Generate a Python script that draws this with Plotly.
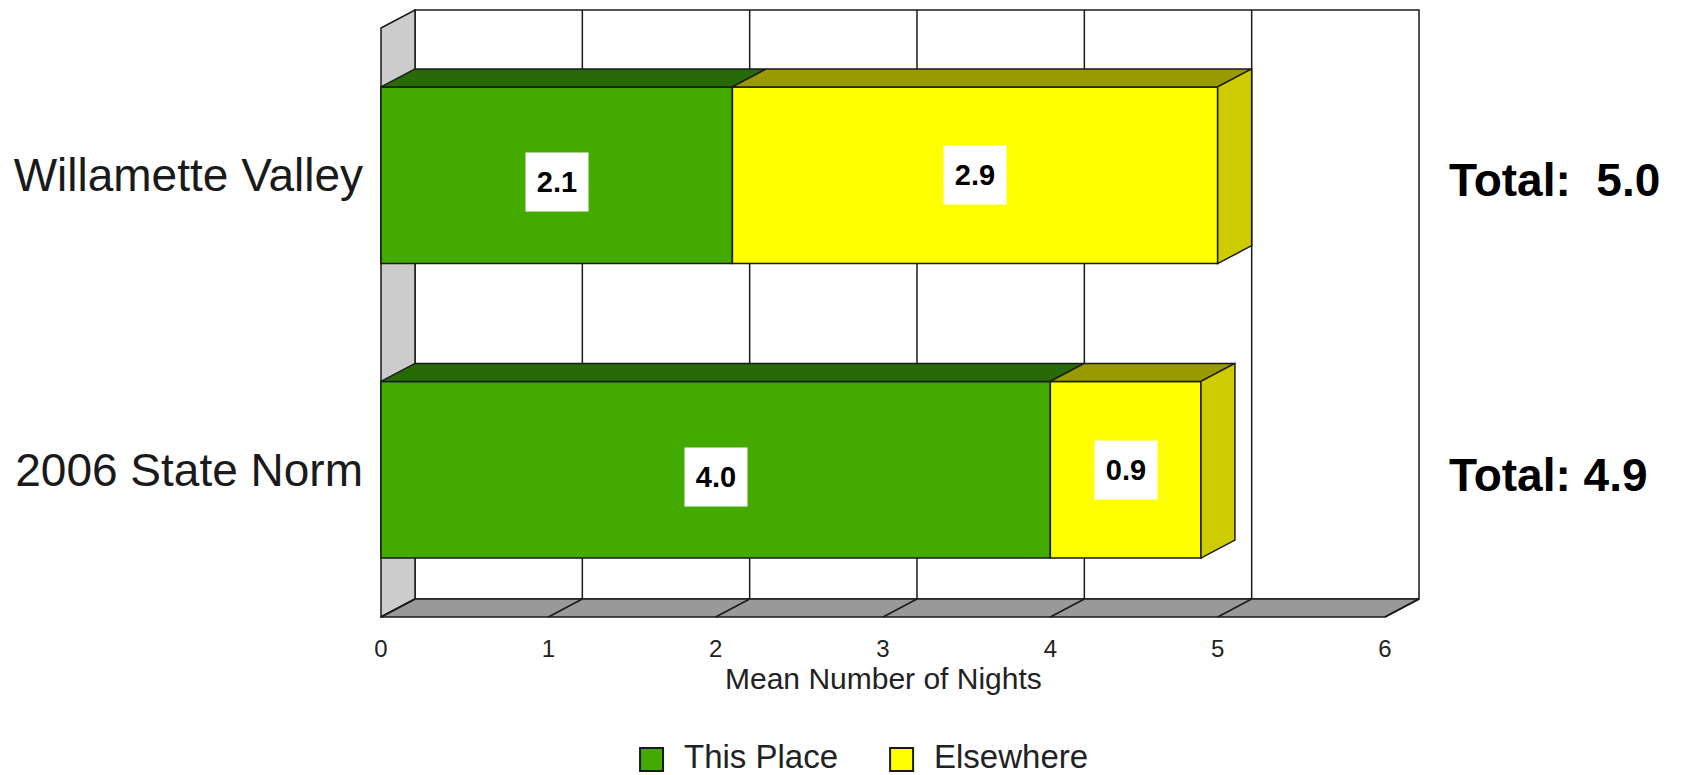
import plotly.graph_objects as go

# ---- data -------------------------------------------------------------
categories = ["Willamette Valley", "2006 State Norm"]
this_place = [2.1, 4.0]
elsewhere = [2.9, 0.9]
total_labels = ["Total:\u00a0 5.0", "Total: 4.9"]
x_ticks = [0, 1, 2, 3, 4, 5, 6]
series_names = ["This Place", "Elsewhere"]

# ---- styling ----------------------------------------------------------
FONT = "Arial, Liberation Sans, sans-serif"
GREEN, GREEN_TOP = "#44AA00", "#286A06"
YELLOW, YELLOW_TOP, YELLOW_SIDE = "#FFFF00", "#999900", "#CCCC00"
WALL, FLOOR, EDGE = "#CCCCCC", "#999999", "#1a1a1a"
BAR_W = 0.6

W, H = 1683, 775
PX_X = 167.3          # pixels per x unit
PX_Y = 294.5          # pixels per category step
DEPTH_PX, RISE_PX = 34, 18
PAD = 3
dx = DEPTH_PX / PX_X
dy = RISE_PX / PX_Y
x_max = max(x_ticks)

x_range = [-PAD / PX_X, x_max + dx + PAD / PX_X]
y_lo, y_hi = -0.5, len(categories) - 0.5
y_range = [y_hi + PAD / PX_Y, y_lo - dy - PAD / PX_Y]

plot_w = (x_range[1] - x_range[0]) * PX_X
plot_h = (y_range[0] - y_range[1]) * PX_Y
m_l, m_t = 378, 7
m_r = W - m_l - plot_w
m_b = H - m_t - plot_h


def paper_x(px):
    return (px - m_l) / plot_w


def paper_y(py):
    return (m_t + plot_h - py) / plot_h


def poly(points):
    return "M " + " L ".join(f"{x},{y}" for x, y in points) + " Z"


shapes = []
# back wall
shapes.append(dict(type="rect", xref="x", yref="y", layer="below",
                   x0=dx, x1=x_max + dx, y0=y_lo - dy, y1=y_hi - dy,
                   fillcolor="white", line=dict(color=EDGE, width=1.5)))
for t in x_ticks[1:-1]:
    shapes.append(dict(type="line", xref="x", yref="y", layer="below",
                       x0=t + dx, x1=t + dx, y0=y_lo - dy, y1=y_hi - dy,
                       line=dict(color=EDGE, width=1.5)))
# left side wall
shapes.append(dict(type="path", xref="x", yref="y", layer="below",
                   path=poly([(0, y_lo), (dx, y_lo - dy), (dx, y_hi - dy), (0, y_hi)]),
                   fillcolor=WALL, line=dict(color=EDGE, width=1.5)))
# floor
shapes.append(dict(type="path", xref="x", yref="y", layer="below",
                   path=poly([(0, y_hi), (dx, y_hi - dy), (x_max + dx, y_hi - dy), (x_max, y_hi)]),
                   fillcolor=FLOOR, line=dict(color=EDGE, width=1.5)))
for t in x_ticks:
    shapes.append(dict(type="line", xref="x", yref="y", layer="below",
                       x0=t, x1=t + dx, y0=y_hi, y1=y_hi - dy,
                       line=dict(color=EDGE, width=1.5)))

fig = go.Figure()
ys = list(range(len(categories)))
fig.add_trace(go.Bar(y=ys, x=this_place, orientation="h", width=BAR_W,
                     name=series_names[0], marker=dict(color=GREEN, line=dict(color=EDGE, width=1.5)),
                     showlegend=False, hoverinfo="skip"))
fig.add_trace(go.Bar(y=ys, x=elsewhere, base=this_place, orientation="h", width=BAR_W,
                     name=series_names[1], marker=dict(color=YELLOW, line=dict(color=EDGE, width=1.5)),
                     showlegend=False, hoverinfo="skip"))

annotations = []
for i, (a, b) in enumerate(zip(this_place, elsewhere)):
    top, bot = i - BAR_W / 2, i + BAR_W / 2
    # top faces
    for x0, x1, col in [(0, a, GREEN_TOP), (a, a + b, YELLOW_TOP)]:
        shapes.append(dict(type="path", xref="x", yref="y", layer="above",
                           path=poly([(x0, top), (x0 + dx, top - dy), (x1 + dx, top - dy), (x1, top)]),
                           fillcolor=col, line=dict(color=EDGE, width=1.5)))
    # right end face
    end = a + b
    shapes.append(dict(type="path", xref="x", yref="y", layer="above",
                       path=poly([(end, top), (end + dx, top - dy), (end + dx, bot - dy), (end, bot)]),
                       fillcolor=YELLOW_SIDE, line=dict(color=EDGE, width=1.5)))
    # value boxes
    for xc, val, ysh in [(a / 2, a, -7), (a + b / 2, b, 0)]:
        annotations.append(dict(x=xc, y=i, xref="x", yref="y", text=f"<b>{val:.1f}</b>",
                                showarrow=False, bgcolor="white", width=62, height=58,
                                borderpad=0, yshift=ysh,
                                font=dict(family=FONT, size=29, color="black")))
    # totals
    annotations.append(dict(x=paper_x(1447), y=i, xref="paper", yref="y",
                            text=f"<b>{total_labels[i]}</b>", showarrow=False,
                            xanchor="left", yanchor="middle", yshift=-5,
                            font=dict(family=FONT, size=46, color="black")))

# axis title
annotations.append(dict(x=x_max / 2, y=0, xref="x", yref="paper", yshift=-58,
                        text="Mean Number of Nights", showarrow=False,
                        yanchor="middle", font=dict(family=FONT, size=30, color="#222")))

# legend
for name, col, sq_x in [(series_names[0], GREEN, 640), (series_names[1], YELLOW, 890)]:
    shapes.append(dict(type="rect", xref="paper", yref="paper",
                       x0=paper_x(sq_x), x1=paper_x(sq_x + 23),
                       y0=paper_y(771), y1=paper_y(748),
                       fillcolor=col, line=dict(color=EDGE, width=2)))
    annotations.append(dict(x=paper_x(sq_x + 42), y=paper_y(756), xref="paper", yref="paper",
                            text=name, showarrow=False, xanchor="left", yanchor="middle",
                            font=dict(family=FONT, size=33, color="#222")))

fig.update_layout(
    width=W, height=H, barmode="overlay",
    margin=dict(l=m_l, r=m_r, t=m_t, b=m_b, autoexpand=False),
    paper_bgcolor="white", plot_bgcolor="white",
    shapes=shapes, annotations=annotations, showlegend=False,
    xaxis=dict(range=x_range, tickvals=x_ticks, ticktext=[str(t) for t in x_ticks],
               showgrid=False, zeroline=False, showline=False, ticks="",
               ticklabelstandoff=12, automargin=False,
               tickfont=dict(family=FONT, size=24, color="#222")),
    yaxis=dict(range=y_range, tickvals=ys, ticktext=categories,
               showgrid=False, zeroline=False, showline=False, ticks="",
               ticklabelstandoff=14, automargin=False,
               tickfont=dict(family=FONT, size=46, color="#1a1a1a")),
)

fig.write_html("out.html")
